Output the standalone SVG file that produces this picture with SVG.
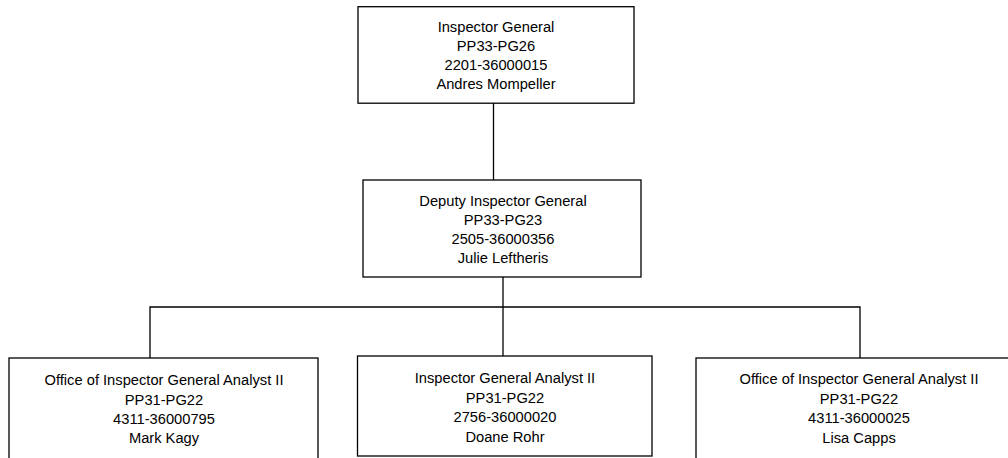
<svg xmlns="http://www.w3.org/2000/svg" width="1008" height="458" viewBox="0 0 1008 458">
  <style>
    .box { fill: #ffffff; stroke: #000000; stroke-width: 1.3; }
    .wire { fill: none; stroke: #000000; stroke-width: 1.3; }
    text { font-family: "Liberation Sans", Arial, sans-serif; font-size: 14.7px; fill: #000000; text-anchor: middle; }
  </style>
  <rect width="1008" height="458" fill="#ffffff"/>

  <!-- reporting lines -->
  <g id="connectors">
    <line class="wire" x1="493.5" y1="103" x2="493.5" y2="180"/>
    <line class="wire" x1="503" y1="277" x2="503" y2="356"/>
    <polyline class="wire" points="150,358 150,307 860,307 860,358"/>
  </g>

  <g id="inspector-general">
    <rect class="box" x="358" y="6.7" width="276" height="96.5"/>
    <text x="496" y="31.5">Inspector General</text>
    <text x="496" y="51">PP33-PG26</text>
    <text x="496" y="70">2201-36000015</text>
    <text x="496" y="89">Andres Mompeller</text>
  </g>

  <g id="deputy-inspector-general">
    <rect class="box" x="363" y="180" width="278" height="97"/>
    <text x="503" y="205.5">Deputy Inspector General</text>
    <text x="503" y="225">PP33-PG23</text>
    <text x="503" y="244">2505-36000356</text>
    <text x="503" y="263">Julie Leftheris</text>
  </g>

  <g id="analyst-kagy">
    <rect class="box" x="9" y="358" width="309" height="110"/>
    <text x="164" y="385">Office of Inspector General Analyst II</text>
    <text x="164" y="404.5">PP31-PG22</text>
    <text x="164" y="424">4311-36000795</text>
    <text x="164" y="443">Mark Kagy</text>
  </g>

  <g id="analyst-rohr">
    <rect class="box" x="357.5" y="356" width="294.5" height="100"/>
    <text x="505" y="383">Inspector General Analyst II</text>
    <text x="505" y="402.5">PP31-PG22</text>
    <text x="505" y="422">2756-36000020</text>
    <text x="505" y="441.5">Doane Rohr</text>
  </g>

  <g id="analyst-capps">
    <rect class="box" x="696" y="358" width="326" height="110"/>
    <text x="859" y="384">Office of Inspector General Analyst II</text>
    <text x="859" y="403.5">PP31-PG22</text>
    <text x="859" y="423">4311-36000025</text>
    <text x="859" y="442.5">Lisa Capps</text>
  </g>
</svg>
